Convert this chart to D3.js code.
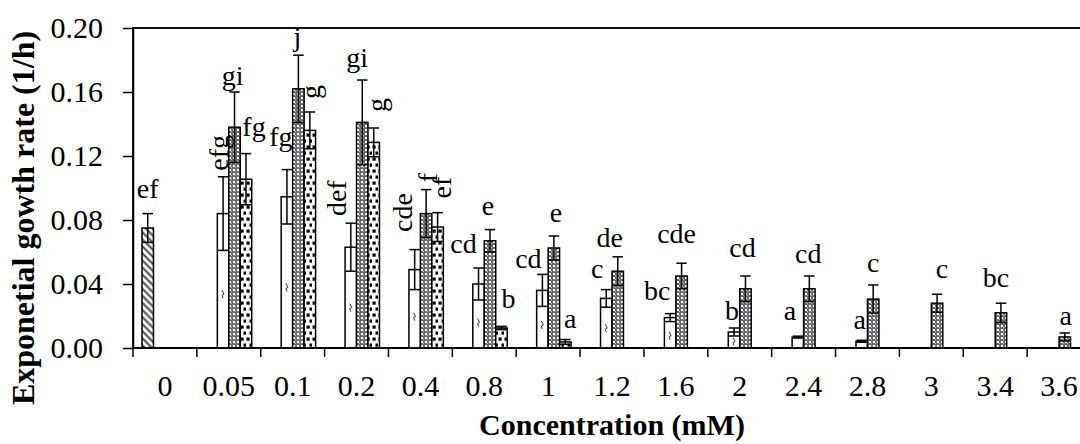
<!DOCTYPE html>
<html>
<head>
<meta charset="utf-8">
<script src="https://cdn.jsdelivr.net/npm/d3@7"></script>
<style>
  html, body { margin: 0; padding: 0; background: #fff; }
  svg { display: block; font-family: "Liberation Serif", "Times New Roman", serif; }
</style>
</head>
<body>
<svg id="chart" width="1080" height="444"></svg>
<script>
// Concentration categories (mM)
const categories = ['0', '0.05', '0.1', '0.2', '0.4', '0.8', '1', '1.2', '1.6', '2', '2.4', '2.8', '3', '3.4', '3.6'];
const seriesKeys = ['control', 'treatA', 'treatB', 'treatC'];

// Growth rates (1/h), null = no bar
const control    = [0.075, null, null, null, null, null, null, null, null, null, null, null, null, null, null];
const controlErr = [0.009, null, null, null, null, null, null, null, null, null, null, null, null, null, null];
const controlLab = ['ef', null, null, null, null, null, null, null, null, null, null, null, null, null, null];

const treatA    = [null, 0.084, 0.0945, 0.063, 0.049, 0.040, 0.036, 0.031, 0.019, 0.010, 0.0068, 0.0042, null, null, null];
const treatAErr = [null, 0.023, 0.017, 0.015, 0.0125, 0.010, 0.010, 0.0055, 0.0025, 0.0025, 0.0006, 0.0006, null, null, null];
const treatALab = [null, 'efg', 'fg', 'def', 'cde', 'cd', 'cd', 'c', 'bc', 'b', 'a', 'a', null, null, null];

const treatB    = [null, 0.138, 0.162, 0.141, 0.084, 0.067, 0.0625, 0.048, 0.045, 0.037, 0.037, 0.0306, 0.028, 0.022, 0.0069];
const treatBErr = [null, 0.022, 0.021, 0.0265, 0.015, 0.007, 0.0075, 0.009, 0.008, 0.008, 0.008, 0.0088, 0.0056, 0.006, 0.0025];
const treatBLab = [null, 'gi', 'j', 'gi', 'f', 'e', 'e', 'de', 'cde', 'cd', 'cd', 'c', 'c', 'bc', 'a'];

const treatC    = [null, 0.1055, 0.136, 0.1285, 0.0756, 0.0125, 0.0038, null, null, null, null, null, null, null, null];
const treatCErr = [null, 0.016, 0.0115, 0.009, 0.009, 0.001, 0.0015, null, null, null, null, null, null, null, null];
const treatCLab = [null, 'fg', 'g', 'g', 'ef', 'b', 'a', null, null, null, null, null, null, null, null];

const yTicks = [0, 0.04, 0.08, 0.12, 0.16, 0.20];

// Hand-placed letter labels: [dx, dy from error-bar top, rotated]
const labelNudge = {
  'control:0': [0, -16, false],
  'treatA:0.05': [-5, -24, true], 'treatA:0.1': [-6, -24, false], 'treatA:0.2': [-14, -25, true],
  'treatA:0.4': [-12, -37, true], 'treatA:0.8': [-15, -15, false], 'treatA:1': [-14, -6, false],
  'treatA:1.2': [-9, -12, false], 'treatA:1.6': [-13, -14, false], 'treatA:2': [-2, -8, false],
  'treatA:2.4': [-8, -16, false], 'treatA:2.8': [-2, -11, false],
  'treatB:0.05': [-2, -7, false], 'treatB:0.1': [-1, -9, false], 'treatB:0.2': [-5, -13, false],
  'treatB:0.4': [1, -12, true], 'treatB:0.8': [-2, -15, false], 'treatB:1': [2, -14, false],
  'treatB:1.2': [-8, -10, false], 'treatB:1.6': [-5, -20, false], 'treatB:2': [-3, -19, false],
  'treatB:2.4': [-1, -13, false], 'treatB:2.8': [0, -13, false], 'treatB:3': [5, -16, false],
  'treatB:3.4': [-5, -16, false], 'treatB:3.6': [1, -8, false],
  'treatC:0.05': [8, -18, false], 'treatC:0.1': [1, -20, true], 'treatC:0.2': [3, -23, true],
  'treatC:0.4': [4, -25, true], 'treatC:0.8': [7, -18, false], 'treatC:1': [5, -12, false]
};

const seriesData = {
  control: [control, controlErr, controlLab],
  treatA: [treatA, treatAErr, treatALab],
  treatB: [treatB, treatBErr, treatBLab],
  treatC: [treatC, treatCErr, treatCLab]
};

const rows = [];
seriesKeys.forEach(key => {
  const [vals, errs, labs] = seriesData[key];
  categories.forEach((cat, i) => {
    if (vals[i] == null) return;
    rows.push({ key, cat, v: vals[i], e: errs[i] || 0, lab: labs[i] });
  });
});

const svg = d3.select('#chart');
const plot = { left: 133, right: 1091, top: 28, bottom: 348 };
const font = '"Liberation Serif", "Times New Roman", serif';

const x = d3.scaleBand().domain(categories).range([plot.left, plot.right]).padding(0);
const bw = x.bandwidth();
const xs = d3.scaleBand().domain(seriesKeys).range([bw * 0.141, bw * 0.859]).padding(0);
const y = d3.scaleLinear().domain([0, 0.2]).range([plot.bottom, plot.top]);

// Fill patterns
const defs = svg.append('defs');
const hatch = defs.append('pattern').attr('id', 'p-control')
  .attr('patternUnits', 'userSpaceOnUse').attr('width', 5).attr('height', 5)
  .attr('patternTransform', 'rotate(-45)');
hatch.append('rect').attr('width', 5).attr('height', 5).attr('fill', '#fff');
hatch.append('line').attr('x1', 1.5).attr('x2', 1.5).attr('y1', 0).attr('y2', 5)
  .attr('stroke', '#444').attr('stroke-width', 2);

const check = defs.append('pattern').attr('id', 'p-treatB')
  .attr('patternUnits', 'userSpaceOnUse').attr('width', 4).attr('height', 4);
check.append('rect').attr('width', 4).attr('height', 4).attr('fill', '#6a6a6a');
check.append('rect').attr('x', 1).attr('y', 1).attr('width', 2).attr('height', 2).attr('fill', '#fff');
check.append('rect').attr('x', 3).attr('y', 3).attr('width', 1).attr('height', 1).attr('fill', '#bbb');

const dots = defs.append('pattern').attr('id', 'p-treatC')
  .attr('patternUnits', 'userSpaceOnUse').attr('width', 6).attr('height', 12);
dots.append('rect').attr('width', 6).attr('height', 12).attr('fill', '#fff');
dots.append('rect').attr('x', 0.5).attr('y', 1.5).attr('width', 3.2).attr('height', 3.2).attr('fill', '#000');
dots.append('rect').attr('x', 3.5).attr('y', 7.5).attr('width', 3.2).attr('height', 3.2).attr('fill', '#000');

const fillOf = key => key === 'treatA' ? '#fff' : `url(#p-${key})`;

// Plot border
svg.append('rect')
  .attr('x', plot.left).attr('y', plot.top)
  .attr('width', plot.right - plot.left).attr('height', plot.bottom - plot.top)
  .attr('fill', 'none').attr('stroke', '#111').attr('stroke-width', 2);

// Bars
const barX = d => x(d.cat) + xs(d.key);
svg.selectAll('rect.bar')
  .data(rows)
  .join('rect')
  .attr('class', 'bar')
  .attr('x', barX)
  .attr('y', d => y(d.v))
  .attr('width', xs.bandwidth())
  .attr('height', d => y(0) - y(d.v))
  .attr('fill', d => fillOf(d.key))
  .attr('stroke', '#000')
  .attr('stroke-width', 1.5);

// little texture flick inside the white bars
svg.selectAll('path.flick')
  .data(rows.filter(d => d.key === 'treatA' && y(0) - y(d.v) > 15))
  .join('path')
  .attr('class', 'flick')
  .attr('d', d => {
    const cx = barX(d) + xs.bandwidth() / 2;
    const cy = y(d.v) + (y(0) - y(d.v)) * 0.6;
    return `M${cx - 1},${cy - 4} L${cx + 1},${cy} L${cx - 1},${cy + 1} L${cx},${cy + 4}`;
  })
  .attr('fill', 'none').attr('stroke', '#333').attr('stroke-width', 1);

// Error bars
const eb = svg.selectAll('g.err')
  .data(rows)
  .join('g')
  .attr('class', 'err')
  .attr('stroke', '#000')
  .attr('stroke-width', 1.5);
eb.append('line')
  .attr('x1', d => barX(d) + xs.bandwidth() / 2)
  .attr('x2', d => barX(d) + xs.bandwidth() / 2)
  .attr('y1', d => y(d.v + d.e))
  .attr('y2', d => y(Math.max(0, d.v - d.e)));
eb.append('line')
  .attr('x1', d => barX(d) + 0.5)
  .attr('x2', d => barX(d) + xs.bandwidth() - 0.5)
  .attr('y1', d => y(d.v + d.e))
  .attr('y2', d => y(d.v + d.e));
eb.append('line')
  .attr('x1', d => barX(d) + 0.5)
  .attr('x2', d => barX(d) + xs.bandwidth() - 0.5)
  .attr('y1', d => y(Math.max(0, d.v - d.e)))
  .attr('y2', d => y(Math.max(0, d.v - d.e)));

// Letter labels
svg.selectAll('text.letter')
  .data(rows.filter(d => d.lab))
  .join('text')
  .attr('class', 'letter')
  .each(function (d) {
    const [dx, dy, rot] = labelNudge[`${d.key}:${d.cat}`] || [0, -13, false];
    const cx = barX(d) + xs.bandwidth() / 2 + dx;
    const cy = y(d.v + d.e) + dy;
    const t = d3.select(this)
      .attr('x', cx).attr('y', cy)
      .attr('text-anchor', 'middle')
      .attr('font-size', 28)
      .attr('fill', '#000')
      .text(d.lab);
    if (rot) {
      t.attr('dominant-baseline', 'central')
        .attr('transform', `rotate(-90,${cx},${cy})`);
    }
  });

// Y axis
const yAxis = svg.append('g')
  .attr('transform', `translate(${plot.left},0)`)
  .call(d3.axisLeft(y).tickValues(yTicks).tickFormat(d3.format('.2f'))
    .tickSize(10).tickSizeOuter(0).tickPadding(20));
yAxis.select('.domain').attr('stroke', '#000').attr('stroke-width', 1.5);
yAxis.selectAll('.tick line').attr('stroke', '#000').attr('stroke-width', 1.5);
yAxis.selectAll('.tick text').attr('font-size', 30).attr('font-family', font).attr('fill', '#000');

// X axis line, boundary ticks and category labels
svg.append('line')
  .attr('x1', plot.left).attr('x2', plot.right)
  .attr('y1', y(0)).attr('y2', y(0))
  .attr('stroke', '#000').attr('stroke-width', 1.5);
const bounds = categories.map(c => x(c)).concat([x.range()[1]]);
svg.selectAll('line.xtick')
  .data(bounds)
  .join('line')
  .attr('class', 'xtick')
  .attr('x1', d => d).attr('x2', d => d)
  .attr('y1', y(0)).attr('y2', y(0) + 9)
  .attr('stroke', '#000').attr('stroke-width', 1.5);
svg.selectAll('text.xlab')
  .data(categories)
  .join('text')
  .attr('class', 'xlab')
  .attr('x', d => x(d) + bw / 2)
  .attr('y', 396)
  .attr('text-anchor', 'middle')
  .attr('font-size', 30)
  .text(d => d);

// Axis titles
svg.append('text')
  .attr('x', (plot.left + plot.right) / 2)
  .attr('y', 435)
  .attr('text-anchor', 'middle')
  .attr('font-size', 30)
  .attr('font-weight', 'bold')
  .text('Concentration (mM)');
svg.append('text')
  .attr('transform', 'translate(34,218) rotate(-90)')
  .attr('text-anchor', 'middle')
  .attr('font-size', 32)
  .attr('font-weight', 'bold')
  .text('Exponetial gowth rate (1/h)');
</script>
</body>
</html>
